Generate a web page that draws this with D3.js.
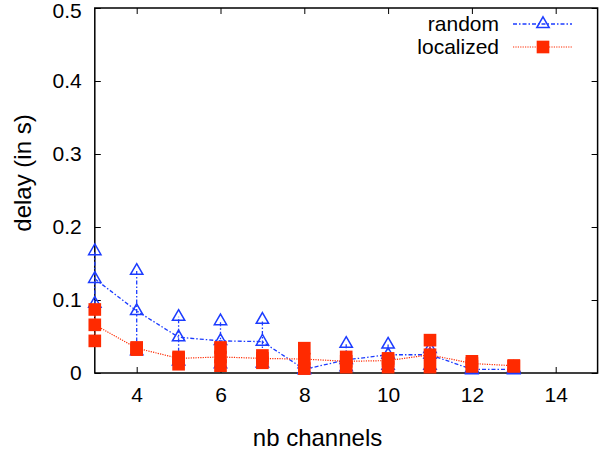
<!DOCTYPE html>
<html>
<head>
<meta charset="utf-8">
<script src="https://cdn.jsdelivr.net/npm/d3@7"></script>
<style>
  body { margin: 0; background: #fff; }
  svg { display: block; font-family: "Liberation Sans", Arial, sans-serif; }
</style>
</head>
<body>
<div id="chart"></div>
<script>
const W = 606;
const H = 450;

// data (min / mean / max per channel count)
const channels = [3, 4, 5, 6, 7, 8, 9, 10, 11, 12, 13];
const randomMean = [0.129, 0.085, 0.049, 0.044, 0.043, 0.005, 0.018, 0.025, 0.025, 0.005, 0.005];
const randomMin  = [0.095, 0.030, 0.016, 0.012, 0.013, 0.004, 0.008, 0.010, 0.010, 0.004, 0.004];
const randomMax  = [0.167, 0.140, 0.077, 0.071, 0.073, 0.012, 0.040, 0.039, 0.033, 0.007, 0.007];
const localMean  = [0.066, 0.034, 0.020, 0.022, 0.020, 0.019, 0.016, 0.017, 0.025, 0.013, 0.010];
const localMin   = [0.044, 0.032, 0.012, 0.010, 0.014, 0.006, 0.008, 0.008, 0.008, 0.009, 0.009];
const localMax   = [0.087, 0.035, 0.022, 0.035, 0.024, 0.034, 0.022, 0.020, 0.045, 0.016, 0.010];

const xTicks = [4, 6, 8, 10, 12, 14];
const yTicks = [0, 0.1, 0.2, 0.3, 0.4, 0.5];

const BLUE = '#1c3cff';
const RED = '#ff2a00';

const x = d3.scaleLinear().domain([3, 15]).range([94.8, 597.6]);
const y = d3.scaleLinear().domain([0, 0.5]).range([373, 8]);

const svg = d3.select('#chart').append('svg')
  .attr('width', W)
  .attr('height', H);

// mirrored inward ticks, gnuplot style
const tickLen = 6;
const axes = svg.append('g').attr('class', 'axes');

axes.append('g')
  .attr('transform', `translate(0,${y(0)})`)
  .call(d3.axisBottom(x).tickValues(xTicks).tickFormat(d3.format('d')).tickSize(-tickLen).tickPadding(14));
axes.append('g')
  .attr('transform', `translate(0,${y(0.5)})`)
  .call(d3.axisTop(x).tickValues(xTicks).tickFormat('').tickSize(-tickLen));
const yAxis = axes.append('g')
  .attr('transform', `translate(${x(3)},0)`)
  .call(d3.axisLeft(y).tickValues(yTicks).tickFormat(d => d === 0 ? '0' : d3.format('.1f')(d)).tickSize(-tickLen).tickPadding(13));
axes.append('g')
  .attr('transform', `translate(${x(15)},0)`)
  .call(d3.axisRight(y).tickValues(yTicks).tickFormat('').tickSize(-tickLen));

axes.selectAll('.domain').remove();
axes.selectAll('.tick line').attr('stroke', '#000').attr('stroke-width', 1);
axes.selectAll('.tick text').attr('font-size', 21).attr('fill', '#000')
  .attr('font-family', '"Liberation Sans", Arial, sans-serif');
// keep the top label inside the page
yAxis.selectAll('.tick text').filter(d => d === 0.5).attr('dy', '0.45em');

svg.append('rect')
  .attr('x', x(3)).attr('y', y(0.5))
  .attr('width', x(15) - x(3)).attr('height', y(0) - y(0.5))
  .attr('fill', 'none').attr('stroke', '#000').attr('stroke-width', 1.5);

// axis titles
svg.append('text')
  .attr('x', 317.5).attr('y', 446)
  .attr('text-anchor', 'middle')
  .attr('font-size', 24)
  .text('nb channels');

svg.append('text')
  .attr('transform', 'translate(31,173) rotate(-90)')
  .attr('text-anchor', 'middle')
  .attr('font-size', 24)
  .text('delay (in s)');

const series = [
  { name: 'random', mean: randomMean, lo: randomMin, hi: randomMax, color: BLUE,
    dash: '4,2,1.5,2', width: 1.3, symbol: d3.symbolTriangle, size: 66, filled: false },
  { name: 'localized', mean: localMean, lo: localMin, hi: localMax, color: RED,
    dash: '1.2,1.2', width: 1.2, symbol: d3.symbolSquare, size: 160, filled: true }
];

const plot = svg.append('g').attr('class', 'plot');
const line = d3.line().x(d => x(d[0])).y(d => y(d[1]));

series.forEach(s => {
  const g = plot.append('g').attr('class', s.name);
  const rows = channels.map((c, i) => ({ c, m: s.mean[i], lo: s.lo[i], hi: s.hi[i] }));

  g.append('path')
    .datum(rows.map(r => [r.c, r.m]))
    .attr('d', line)
    .attr('fill', 'none')
    .attr('stroke', s.color)
    .attr('stroke-width', s.width)
    .attr('stroke-dasharray', s.dash);

  g.selectAll('line.err')
    .data(rows)
    .join('line')
    .attr('class', 'err')
    .attr('x1', d => x(d.c)).attr('x2', d => x(d.c))
    .attr('y1', d => y(d.lo)).attr('y2', d => y(d.hi))
    .attr('stroke', s.color)
    .attr('stroke-width', s.width)
    .attr('stroke-dasharray', s.dash);

  const pts = rows.flatMap(r => [[r.c, r.lo], [r.c, r.m], [r.c, r.hi]]);
  g.selectAll('path.pt')
    .data(pts)
    .join('path')
    .attr('class', 'pt')
    .attr('d', d3.symbol(s.symbol, s.size))
    .attr('transform', d => `translate(${x(d[0])},${y(d[1])})`)
    .attr('fill', s.filled ? s.color : 'none')
    .attr('stroke', s.filled ? 'none' : s.color)
    .attr('stroke-width', 1.5);
});

// legend
const legend = svg.append('g').attr('class', 'legend');
series.forEach((s, i) => {
  const ly = 24 + i * 23;
  legend.append('text')
    .attr('x', 499).attr('y', ly)
    .attr('dy', '0.35em')
    .attr('text-anchor', 'end')
    .attr('font-size', 21)
    .text(s.name);
  legend.append('line')
    .attr('x1', 513).attr('x2', 572)
    .attr('y1', ly).attr('y2', ly)
    .attr('stroke', s.color)
    .attr('stroke-width', s.width)
    .attr('stroke-dasharray', s.dash);
  legend.append('path')
    .attr('d', d3.symbol(s.symbol, s.size))
    .attr('transform', `translate(543,${ly})`)
    .attr('fill', s.filled ? s.color : 'none')
    .attr('stroke', s.filled ? 'none' : s.color)
    .attr('stroke-width', 1.5);
});
</script>
</body>
</html>
